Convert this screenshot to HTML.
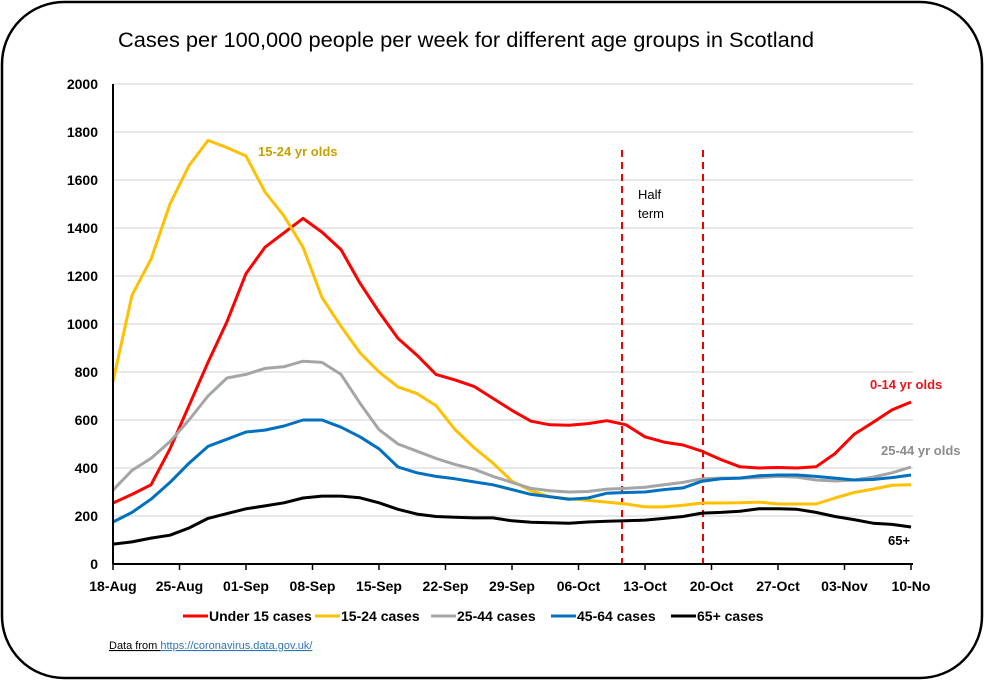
<!DOCTYPE html>
<html><head><meta charset="utf-8"><style>
html,body{margin:0;padding:0;background:#fff;}
body{width:986px;height:681px;overflow:hidden;font-family:"Liberation Sans",sans-serif;}
</style></head><body>
<svg id="chart" width="986" height="681" xmlns="http://www.w3.org/2000/svg">
<rect x="2" y="2" width="980" height="676" rx="62" ry="62" fill="#fff" stroke="#000" stroke-width="2.5"/>
<text x="118" y="47" textLength="696" lengthAdjust="spacingAndGlyphs" font-size="21" fill="#000">Cases per 100,000 people per week for different age groups in Scotland</text>
<g id="grid"></g><g id="yt"></g><g id="xt"></g>
<line x1="622" y1="150" x2="622" y2="564" stroke="#e00" stroke-width="2" stroke-dasharray="7,5"/>
<line x1="703" y1="150" x2="703" y2="564" stroke="#e00" stroke-width="2" stroke-dasharray="7,5"/>
<g id="series"></g>
<line x1="113" y1="84" x2="113" y2="564" stroke="#000" stroke-width="2"/>
<line x1="113" y1="564" x2="913" y2="564" stroke="#000" stroke-width="2"/>
<text x="638" y="199" font-size="13"><tspan x="638">Half</tspan><tspan x="638" dy="19">term</tspan></text>
<text x="258" y="156" font-size="13" font-weight="bold" fill="#c8a000">15-24 yr olds</text>
<text x="870" y="389" font-size="13" font-weight="bold" fill="#e8141c">0-14 yr olds</text>
<text x="881" y="455" font-size="13" font-weight="bold" fill="#8c8c8c">25-44 yr olds</text>
<text x="888" y="545" font-size="13" font-weight="bold" fill="#000">65+</text>
<g id="legend"></g>
<text x="109" y="649" font-size="11" fill="#000"><tspan text-decoration="underline">Data from </tspan><tspan fill="#2e75b6" text-decoration="underline">https://coronavirus.data.gov.uk/</tspan></text>
</svg>
<script>
const days=[0,2,4,6,8,10,12,14,16,18,20,22,24,26,28,30,32,34,36,38,40,42,44,46,48,50,52,54,56,58,60,62,64,66,68,70,72,74,76,78,80,82,84];
const under15=[254,290,330,480,660,840,1010,1210,1320,1380,1440,1383,1310,1170,1050,940,870,790,767,740,690,640,595,580,578,585,597,580,530,508,496,470,435,405,400,402,400,405,460,540,590,642,675];
const age15to24=[760,1120,1270,1500,1660,1765,1735,1700,1550,1450,1320,1110,990,880,800,738,710,660,560,485,420,345,305,280,272,265,258,250,238,238,245,254,254,255,258,250,250,250,275,298,312,328,330];
const age25to44=[308,390,440,510,600,700,775,790,815,822,845,840,790,670,560,500,470,440,415,395,365,340,315,305,300,302,312,315,320,330,340,355,358,358,360,365,362,350,346,350,362,380,404];
const age45to64=[175,215,270,340,420,490,520,550,558,575,600,600,570,530,480,404,380,365,355,342,330,310,290,280,270,275,295,298,300,310,317,345,355,358,368,371,371,365,358,350,352,360,371];
const age65plus=[83,92,108,120,150,190,210,230,242,255,275,283,283,276,255,228,208,198,195,192,192,180,174,172,170,175,178,180,183,190,198,212,215,220,230,230,228,215,198,185,170,165,154];
const yTicks=[0,200,400,600,800,1000,1200,1400,1600,1800,2000];
const xLabels=["18-Aug","25-Aug","01-Sep","08-Sep","15-Sep","22-Sep","29-Sep","06-Oct","13-Oct","20-Oct","27-Oct","03-Nov","10-No"];
const seriesNames=["Under 15 cases","15-24 cases","25-44 cases","45-64 cases","65+ cases"];
const seriesColors=["#ff0000","#ffc000","#a5a5a5","#0070c0","#000000"];
const seriesData=[under15,age15to24,age25to44,age45to64,age65plus];

const NS="http://www.w3.org/2000/svg";
const xS=d=>113+d*9.5;
const yS=v=>564-v*0.24;
function mk(tag,attrs,parent){const e=document.createElementNS(NS,tag);for(const k in attrs)e.setAttribute(k,attrs[k]);parent.appendChild(e);return e;}
const grid=document.getElementById('grid'),yt=document.getElementById('yt'),xt=document.getElementById('xt');
yTicks.forEach(v=>{
  if(v>0){const g=mk('line',{x1:113,x2:913,y1:yS(v),y2:yS(v),stroke:'#d9d9d9','stroke-width':1.3},grid);
  
  }
  const t=mk('text',{x:98,y:yS(v)+5,'text-anchor':'end','font-size':14,'font-weight':'bold'},yt);
  t.textContent=v;
  
  
});
xLabels.forEach((l,i)=>{
  const x=xS(i*7);
  const tk=mk('line',{x1:x,x2:x,y1:564,y2:570,stroke:'#000','stroke-width':1.5},xt);
  
  
  const t=mk('text',{x:x,y:591,'text-anchor':'middle','font-size':14,'font-weight':'bold'},xt);
  t.textContent=l;
  
  
});
const sg=document.getElementById('series');
seriesData.forEach((arr,si)=>{
  const d=arr.map((v,i)=>(i?'L':'M')+xS(days[i]).toFixed(1)+','+yS(v).toFixed(1)).join(' ');
  const p=mk('path',{d:d,fill:'none',stroke:seriesColors[si],'stroke-width':3,'stroke-linejoin':'round'},sg);
  
  
});
const lg=document.getElementById('legend');
const lx=[183,315,431,551,671];
seriesNames.forEach((n,i)=>{
  const l=mk('line',{x1:lx[i],x2:lx[i]+25,y1:616,y2:616,stroke:seriesColors[i],'stroke-width':3},lg);
  
  
  const t=mk('text',{x:lx[i]+26,y:621,'font-size':14,'font-weight':'bold'},lg);
  t.textContent=n;
  
  
});
</script>
</body></html>
